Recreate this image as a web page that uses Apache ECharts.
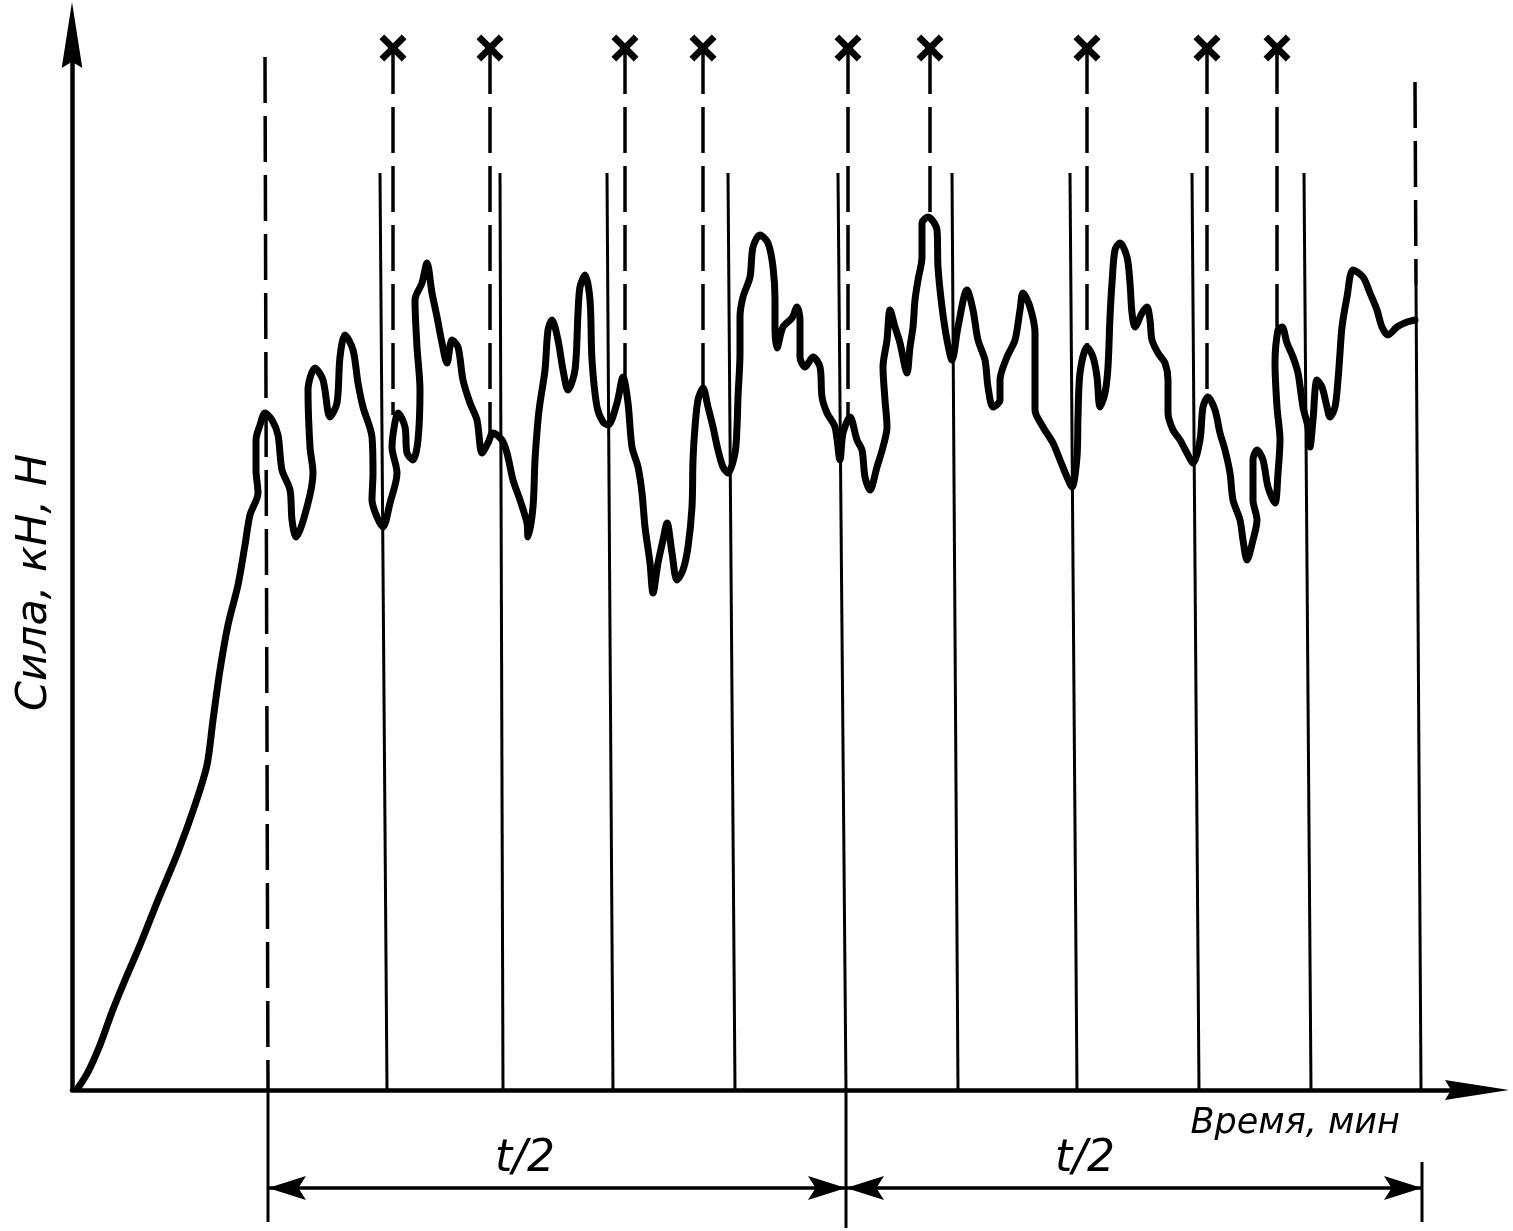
<!DOCTYPE html>
<html>
<head>
<meta charset="utf-8">
<script src="https://cdn.jsdelivr.net/npm/echarts@6/dist/echarts.min.js"></script>
<style>html,body{margin:0;padding:0;background:#fff}#c{width:1513px;height:1231px}</style>
</head>
<body>
<div id="c"></div>
<script>
// ---- Data (time units, force units; origin at 0,0) ----
const curveTime = [6,16,28,40,53,68,86,106,123,135,141,148,156,166,173,178,186,184,184,188,193,200,206,210,218,220,224,235,241,238,236,243,251,258,265,268,273,281,286,291,300,301,300,305,311,318,325,320,323,326,333,335,341,346,348,345,343,350,355,360,365,370,375,380,386,391,398,405,410,416,421,430,435,441,448,455,456,461,463,466,468,473,476,480,486,491,496,503,506,508,513,518,520,525,531,536,545,551,556,560,566,570,573,578,581,586,591,595,600,605,611,616,620,621,623,626,631,636,641,646,651,656,663,665,666,668,668,671,678,681,688,696,701,703,703,705,711,720,725,728,728,733,741,748,750,755,763,768,771,778,785,790,793,798,805,811,815,813,811,815,818,823,828,835,838,841,843,846,850,850,856,865,866,870,875,880,886,895,901,906,913,916,921,928,928,935,943,948,951,958,963,963,963,971,981,988,995,1000,1005,1006,1008,1015,1021,1025,1028,1033,1036,1038,1040,1043,1048,1055,1058,1060,1063,1070,1075,1078,1080,1086,1093,1096,1096,1101,1108,1115,1121,1128,1131,1136,1143,1148,1153,1158,1161,1168,1171,1175,1181,1185,1181,1181,1185,1191,1196,1203,1206,1208,1205,1203,1206,1210,1215,1221,1226,1231,1236,1238,1241,1245,1250,1255,1258,1263,1266,1268,1270,1275,1281,1291,1298,1305,1310,1316,1325,1335,1343];
const curveForce = [2,18,45,78,110,145,190,238,285,325,370,420,465,505,545,575,597,620,650,665,677,670,655,620,600,570,553,583,617,643,700,722,710,673,687,733,755,740,707,683,653,617,590,573,563,587,617,643,668,677,663,637,630,650,700,743,790,807,827,797,773,747,727,750,743,710,687,670,637,647,657,650,637,610,590,567,553,583,630,670,687,720,760,770,750,720,700,720,777,803,815,790,730,683,668,665,687,713,687,643,623,597,563,527,497,527,550,567,537,510,520,543,583,630,663,690,702,683,663,640,623,617,637,663,693,737,773,793,813,843,855,847,823,790,763,742,763,772,783,770,733,723,733,723,693,677,663,630,657,673,650,640,613,600,623,643,663,690,723,750,780,763,747,717,743,763,790,810,833,867,873,860,823,783,750,730,763,800,780,750,730,703,683,690,710,733,750,780,797,783,757,723,680,663,647,630,613,603,633,673,717,743,733,713,683,697,723,773,807,840,847,833,807,777,763,777,783,770,750,737,727,710,677,660,650,637,627,650,683,693,680,657,640,617,590,570,550,530,550,570,590,630,640,630,603,587,617,650,683,727,760,763,747,733,717,683,663,643,670,710,703,683,673,683,710,737,763,793,820,813,797,780,763,755,763,768,770];

// dashed reference lines through the marked peaks (×)
const peakTimes  = [321, 418, 553, 631, 776, 858, 1015, 1135, 1205];
const peakForces = [675, 655, 710, 700, 670, 872, 745, 693, 763];
const markerLevel = 1042;

// solid lines through the valleys
const valleyTopTimes  = [308, 428, 535, 656, 766, 880, 998, 1120, 1232];
const valleyBaseTimes = [315, 431, 541, 663, 774, 886, 1005, 1127, 1239];
const valleyTopLevel = 917;

// start / end of the measured interval
const startTop = [193, 1033], startBase = [196, 0], startExt = [196, -132];
const endDashTop = [1343, 1008], endSolidTop = [1344, 805], endBase = [1349, 0];
const endExtTop = [1350, -72], endExtBase = [1350, -132];
const midExt = [774, -138];
const dimLevel = -98;
const halfMarks = [196, 774, 1350];
const halfLabels = ['t/2', 't/2'];
const halfLabelPos = [[453, -70], [1013, -70]];

const X_MAX = 1405, Y_MAX = 1055;

// ---- Build ----
const font = "'DejaVu Sans', sans-serif";
const solid = {color:'#000', width:3, type:'solid'};
const dashed = {color:'#000', width:3.5, type:[46,13]};
function seg(a, b, style){
  return {type:'line', data:[a,b], symbol:'none', silent:true, clip:false, lineStyle:style, z:3, animation:false};
}
const series = [];
series.push({
  type:'line', name:'force', data: curveTime.map((t,i)=>[t, curveForce[i]]),
  symbol:'none', smooth:0.3, clip:false, z:5, animation:false,
  lineStyle:{color:'#000', width:7, cap:'round', join:'round'}
});
valleyTopTimes.forEach((t,i)=>series.push(seg([t, valleyTopLevel], [valleyBaseTimes[i], 0], solid)));
peakTimes.forEach((t,i)=>series.push(seg([t, markerLevel], [t, peakForces[i]], dashed)));
series.push(seg(startTop, startBase, dashed));
series.push(seg(startBase, startExt, solid));
series.push(seg(endDashTop, endSolidTop, dashed));
series.push(seg(endSolidTop, endBase, solid));
series.push(seg(endExtTop, endExtBase, solid));
series.push(seg([midExt[0], 0], midExt, solid));
// dimension line
series.push(seg([halfMarks[0], dimLevel], [halfMarks[2], dimLevel], {color:'#000', width:3.5, type:'solid'}));

const xPath = 'path://M0,3.5 L3.5,0 L10,6.5 L16.5,0 L20,3.5 L13.5,10 L20,16.5 L16.5,20 L10,13.5 L3.5,20 L0,16.5 L6.5,10 Z';
series.push({
  type:'scatter', data: peakTimes.map(t=>[t, markerLevel]), symbol:xPath, symbolSize:27,
  itemStyle:{color:'#000', opacity:1}, clip:false, silent:true, z:6, animation:false
});
// dimension arrowheads
const arrowRight = 'path://M0,0 L40,11 L0,22 L8,11 Z';
const arrowLeft = 'path://M40,0 L0,11 L40,22 L32,11 Z';
const ahSize = [38, 24];
series.push({
  type:'scatter', data:[[halfMarks[1], dimLevel], [halfMarks[2], dimLevel]],
  symbol:arrowRight, symbolSize:ahSize, symbolOffset:[-19, 0],
  itemStyle:{color:'#000', opacity:1}, clip:false, silent:true, z:6, animation:false
});
series.push({
  type:'scatter', data:[[halfMarks[0], dimLevel], [halfMarks[1], dimLevel]],
  symbol:arrowLeft, symbolSize:ahSize, symbolOffset:[19, 0],
  itemStyle:{color:'#000', opacity:1}, clip:false, silent:true, z:6, animation:false
});
series.push({
  type:'scatter', data: halfLabelPos.map((p,i)=>({value:p, label:{formatter:halfLabels[i]}})),
  symbolSize:0, clip:false, silent:true, animation:false, itemStyle:{opacity:1},
  label:{show:true, position:'inside', color:'#000', opacity:1, fontSize:44, fontStyle:'italic', fontFamily:font}
});

const axisArrow = 'path://M10,0 L20,64 L10,58 L0,64 Z';
const chart = echarts.init(document.getElementById('c'), null, {renderer:'canvas'});
chart.setOption({
  backgroundColor:'#fff',
  animation:false,
  grid:{left:72, right:1513-72-X_MAX, top:1090-Y_MAX, bottom:141, containLabel:false, outerBoundsMode:'none'},
  xAxis:{
    type:'value', min:0, max:X_MAX,
    name:'Время, мин', nameLocation:'end', nameGap:-77,
    nameTextStyle:{color:'#000', fontSize:35, fontStyle:'italic', fontFamily:font, align:'right', verticalAlign:'top', padding:[16,0,0,0]},
    axisLine:{show:true, symbol:['none', axisArrow], symbolSize:[30,64], lineStyle:{color:'#000', width:4.5}},
    axisTick:{show:false}, axisLabel:{show:false}, splitLine:{show:false}
  },
  yAxis:{
    type:'value', min:0, max:Y_MAX,
    name:'Сила, кН, Н', nameLocation:'middle', nameRotate:90, nameGap:16,
    nameTextStyle:{color:'#000', fontSize:43, fontStyle:'italic', fontFamily:font, padding:[0,40,0,0]},
    axisLine:{show:true, symbol:['none', axisArrow], symbolSize:[30,66], lineStyle:{color:'#000', width:4.5}},
    axisTick:{show:false}, axisLabel:{show:false}, splitLine:{show:false}
  },
  series: series
});
</script>
</body>
</html>
